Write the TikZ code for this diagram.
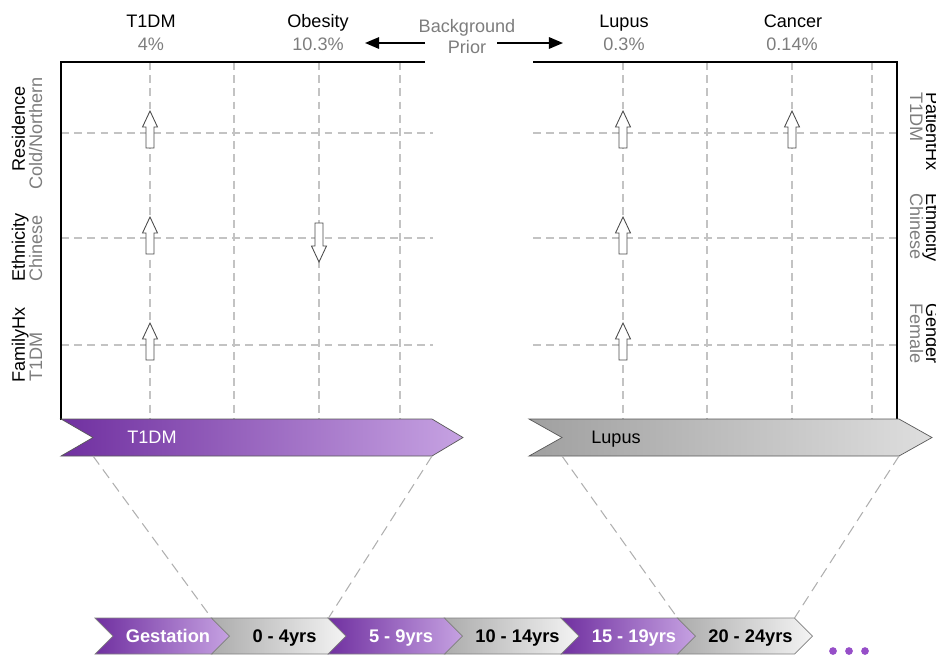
\documentclass[tikz,border=0pt]{standalone}
\usepackage{fontspec}
\setmainfont{Liberation Sans}
\usetikzlibrary{arrows.meta}

\definecolor{darkpurple}{RGB}{112,48,160}
\definecolor{lightpurple}{RGB}{198,162,226}
\definecolor{stagegray}{RGB}{172,172,172}
\definecolor{stagelight}{RGB}{244,244,244}
\definecolor{bandgray}{RGB}{160,160,160}
\definecolor{bandlight}{RGB}{222,222,222}
\definecolor{labelgray}{RGB}{125,125,125}
\definecolor{gridgray}{RGB}{195,195,195}
\definecolor{fangray}{RGB}{175,175,175}
\definecolor{dotpurple}{RGB}{150,78,200}

\tikzset{
  grid line/.style={gridgray, line width=0.6pt, dash pattern=on 4.5pt off 3pt},
  frame line/.style={black, line width=1.2pt},
  fan line/.style={fangray, line width=0.6pt, dash pattern=on 6pt off 3.5pt},
  prior/.style={text=labelgray},
  prior arrow/.style={line width=1pt, -{Triangle[length=8pt,width=6.5pt]}},
  side key/.style={anchor=base west},
  side val/.style={anchor=base west, text=labelgray},
  band edge/.style={draw=black!65, line width=0.4pt},
  stage edge/.style={draw=black!50, line width=0.4pt},
  stage text/.style={anchor=base, font=\fontsize{10.4}{12}\selectfont\bfseries},
  pics/up arrow/.style={code={
    \draw[black!70, fill=white, line width=0.5pt] (0,0) -- (7.5,16) -- (4,16) -- (4,37)
      -- (-4,37) -- (-4,16) -- (-7.5,16) -- cycle;}},
  pics/down arrow/.style={code={
    \draw[black!70, fill=white, line width=0.5pt] (0,0) -- (7.5,-16) -- (4,-16) -- (4,-39)
      -- (-4,-39) -- (-4,-16) -- (-7.5,-16) -- cycle;}}
}

\begin{document}
\begin{tikzpicture}[x=0.02cm, y=-0.02cm,
    every node/.style={font=\fontsize{10.3}{12}\selectfont, inner sep=0pt}]
  \useasboundingbox (0,0) rectangle (936,654);

  % dashed grid of both panels
  \foreach \x in {150,234,319,400,623,707,792,872}
    \draw[grid line] (\x,62) -- (\x,420);
  \foreach \y in {133,238,345} {
    \draw[grid line] (61,\y) -- (433,\y);
    \draw[grid line] (533,\y) -- (897,\y);
  }
  \draw[frame line] (425,62) -- (61,62) -- (61,420);
  \draw[frame line] (533,62) -- (897,62) -- (897,420);

  % diseases and priors
  \node[anchor=base] (t1dm) at (151,27) {T1DM};
  \node[anchor=base, prior] (t1dm-p) at (151,50) {4\%};
  \node[anchor=base] (obes) at (318,27) {Obesity};
  \node[anchor=base, prior] (obes-p) at (318,50) {10.3\%};
  \node[anchor=base] (lupus) at (624,27) {Lupus};
  \node[anchor=base, prior] (lupus-p) at (624,50) {0.3\%};
  \node[anchor=base] (cancer) at (793,27) {Cancer};
  \node[anchor=base, prior] (cancer-p) at (792,50) {0.14\%};
  \node[anchor=base, prior] (bg) at (467,32) {Background};
  \node[anchor=base, prior] (bg-pr) at (467,53) {Prior};
  \coordinate (pl0) at (425,43);
  \coordinate (pl1) at (365,43);
  \coordinate (pr0) at (497,43);
  \coordinate (pr1) at (563,43);
  \draw[prior arrow] (pl0) -- (pl1);
  \draw[prior arrow] (pr0) -- (pr1);

  % factors, left panel
  \node[side key, rotate=90] (res-k) at (25,172) {Residence};
  \node[side val, rotate=90] (res-v) at (42,190) {Cold/Northern};
  \node[side key, rotate=90] (eth-k) at (25,282) {Ethnicity};
  \node[side val, rotate=90] (eth-v) at (42,282) {Chinese};
  \node[side key, rotate=90] (fam-k) at (25,383) {FamilyHx};
  \node[side val, rotate=90] (fam-v) at (42,382) {T1DM};
  % factors, right panel
  \node[side key, rotate=-90] (pat-k) at (926,92) {PatientHx};
  \node[side val, rotate=-90] (pat-v) at (910,92) {T1DM};
  \node[side key, rotate=-90] (eth2-k) at (926,193) {Ethnicity};
  \node[side val, rotate=-90] (eth2-v) at (910,193) {Chinese};
  \node[side key, rotate=-90] (gen-k) at (926,303) {Gender};
  \node[side val, rotate=-90] (gen-v) at (910,303) {Female};

  % risk changes
  \pic at (150,111) {up arrow};
  \pic at (150,217) {up arrow};
  \pic at (150,323) {up arrow};
  \pic at (319,262) {down arrow};
  \pic at (623,111) {up arrow};
  \pic at (792,111) {up arrow};
  \pic at (623,217) {up arrow};
  \pic at (623,323) {up arrow};

  % disease bands
  \draw[band edge, left color=darkpurple, right color=lightpurple]
    (61,419) -- (432,419) -- (463,437.5) -- (432,456) -- (61,456) -- (93,437.5) -- cycle;
  \node[anchor=base, text=white] (t1dm-band) at (152,443) {T1DM};
  \draw[band edge, left color=bandgray, right color=bandlight]
    (529,419) -- (899,419) -- (932,437.5) -- (899,456) -- (529,456) -- (562,437.5) -- cycle;
  \node[anchor=base] (lupus-band) at (616,443) {Lupus};
  \coordinate (t1dm-bl) at (93,456);
  \coordinate (t1dm-br) at (432,456);
  \coordinate (lupus-bl) at (562,456);
  \coordinate (lupus-br) at (899,456);

  % age stages
  \foreach \lbl/\lc/\rc/\tc [count=\i from 0] in
      {Gestation/darkpurple/lightpurple/white, 0 - 4yrs/stagegray/stagelight/black,
       5 - 9yrs/darkpurple/lightpurple/white, 10 - 14yrs/stagegray/stagelight/black,
       15 - 19yrs/darkpurple/lightpurple/white, 20 - 24yrs/stagegray/stagelight/black} {
    \pgfmathsetmacro\xo{95+116.5*\i}
    \draw[stage edge, left color=\lc, right color=\rc]
      (\xo,618) -- ++(117,0) -- ++(18,18) -- ++(-18,18) -- ++(-117,0) -- ++(18,-18) -- cycle;
    \coordinate (st\i-l) at (\xo,618);
    \coordinate (st\i-r) at (\xo+117,618);
    \node[stage text, text=\tc] (stage\i) at (\xo+73,642) {\lbl};
  }
  \draw[fan line] (t1dm-bl) -- (st1-l);
  \draw[fan line] (t1dm-br) -- (st1-r);
  \draw[fan line] (lupus-bl) -- (st5-l);
  \draw[fan line] (lupus-br) -- (st5-r);

  \foreach \x in {833,849,865}
    \fill[dotpurple] (\x,651) circle[radius=2.2pt];
\end{tikzpicture}
\end{document}
